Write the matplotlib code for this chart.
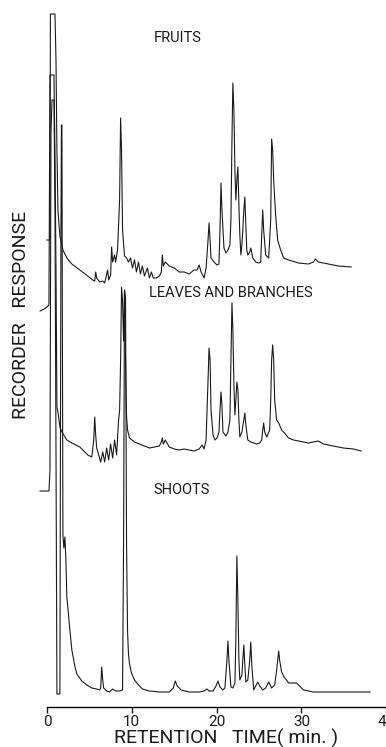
import numpy as np
import matplotlib
matplotlib.use("Agg")
import matplotlib.pyplot as plt

plt.rcParams['font.family'] = ['Roboto', 'DejaVu Sans']

# retention time (min) and recorder response (chart units above each trace's baseline)
fruits_t = [0.00, 0.35, 0.40, 0.47, 0.94, 1.06, 1.17, 1.29, 1.52, 1.88, 2.34, 2.93, 3.87, 4.81,
            5.39, 5.63, 5.74, 5.86, 6.21, 6.57, 6.80, 7.15, 7.27, 7.50, 7.62, 7.74, 7.97, 8.09,
            8.32, 8.56, 8.68, 8.79, 8.91, 9.14, 9.38, 9.61, 9.85, 10.08, 10.32, 10.55, 10.79,
            11.02, 11.25, 11.49, 11.84, 12.08, 12.31, 12.54, 12.90, 13.25, 13.48, 13.60, 13.72,
            13.95, 14.42, 15.01, 15.59, 16.18, 16.76, 17.35, 17.70, 17.94, 18.17, 18.41, 18.52,
            18.76, 18.99, 19.11, 19.23, 19.34, 19.70, 20.05, 20.28, 20.40, 20.52, 20.63, 20.87,
            21.10, 21.34, 21.57, 21.69, 21.81, 21.92, 22.04, 22.16, 22.27, 22.39, 22.51, 22.63,
            22.74, 22.86, 22.98, 23.09, 23.21, 23.33, 23.45, 23.56, 23.68, 23.91, 24.03, 24.27,
            24.62, 24.97, 25.20, 25.32, 25.44, 25.55, 25.79, 26.14, 26.38, 26.49, 26.61, 26.73,
            26.96, 27.20, 27.55, 27.90, 28.49, 29.66, 30.83, 31.42, 31.65, 32.00, 33.18, 34.35,
            35.87]
fruits_r = [27, 27, 253, 253, 253, 207, 117, 57, 31, 17, 9, 3, -3, -9,
            -13, -14, -5, -11, -15, -14, -16, -3, -13, -8, 20, 5, 12, 5,
            17, 67, 149, 117, 37, 11, 9, 5, 9, -1, 7, -5, 5,
            -7, 1, -9, -1, -11, -5, -11, -11, -9, -5, 12, 1,
            5, 1, -1, -5, -5, -7, -3, -3, 2, -5, -9, -11,
            -1, 27, 44, 27, 9, 5, 2, 3, 37, 84, 57, 19,
            14, 17, 22, 47, 127, 184, 157, 97, 67, 87, 100, 62,
            32, 12, 22, 37, 57, 70, 42, 17, 12, 15, 19, 9,
            5, 4, 5, 32, 57, 37, 12, 9, 47, 128, 117, 87,
            52, 27, 17, 9, 7, 4, 3, 5, 8, 5, 3, 1,
            0]

leaves_t = [-0.82, -0.35, 0.00, 0.23, 0.35, 0.82, 0.94, 1.06, 1.17, 1.29, 1.52, 1.76, 2.34, 2.93,
            3.87, 4.81, 5.28, 5.51, 5.63, 5.74, 5.86, 6.10, 6.33, 6.57, 6.80, 7.03, 7.27, 7.50,
            7.74, 7.97, 8.21, 8.44, 8.56, 8.68, 8.79, 8.91, 9.03, 9.14, 9.26, 9.38, 9.50, 9.73,
            10.32, 10.90, 11.49, 12.08, 12.66, 13.25, 13.48, 13.60, 13.72, 13.95, 14.42, 15.01,
            15.59, 16.18, 16.76, 17.35, 17.94, 18.29, 18.52, 18.76, 18.99, 19.11, 19.23, 19.34,
            19.58, 19.81, 20.05, 20.28, 20.40, 20.52, 20.63, 20.75, 21.10, 21.34, 21.57, 21.69,
            21.81, 21.92, 22.04, 22.16, 22.27, 22.39, 22.51, 22.63, 22.74, 22.98, 23.21, 23.33,
            23.45, 23.68, 24.03, 24.38, 24.74, 25.09, 25.32, 25.44, 25.55, 25.67, 25.91, 26.26,
            26.38, 26.49, 26.61, 26.73, 26.85, 27.08, 27.32, 27.67, 27.90, 28.49, 29.07, 29.66,
            30.83, 31.42, 32.00, 32.59, 33.76, 34.94, 36.11, 37.05]
leaves_r = [140, 142, 144, 146, 376, 376, 300, 180, 44, 39, 24, 19, 11, 8,
            4, -4, -6, 11, 34, 16, 3, -4, -11, -1, -11, 3, -9, 7,
            -7, 11, -4, 31, 40, 90, 164, 150, 110, 160, 90, 35, 21, 13,
            9, 7, 5, 3, 4, 5, 9, 13, 7, 11, 4, 2,
            1, 2, 1, 0, 2, 6, 2, 11, 71, 103, 91, 41,
            16, 11, 13, 19, 41, 59, 46, 19, 15, 19, 31, 91,
            148, 121, 66, 36, 51, 69, 61, 31, 14, 19, 31, 38,
            26, 11, 9, 8, 7, 8, 11, 21, 28, 19, 14, 21,
            51, 91, 106, 91, 51, 31, 28, 21, 19, 13, 11, 10,
            8, 9, 10, 7, 5, 3, 2, 0]

shoots_t = [-0.82, 0.23, 0.35, 0.47, 0.59, 0.82, 0.94, 1.06, 1.17, 1.52, 1.64, 1.70, 1.76, 1.82,
            1.88, 1.99, 2.11, 2.23, 2.34, 2.70, 2.93, 3.28, 3.52, 4.10, 4.69, 5.28, 5.86, 6.21,
            6.33, 6.45, 6.57, 6.68, 7.03, 7.39, 7.74, 8.09, 8.56, 8.91, 9.03, 9.14, 9.26, 9.38,
            9.50, 9.61, 9.73, 9.96, 10.32, 10.79, 11.25, 12.08, 13.25, 14.42, 14.89, 15.12, 15.36,
            15.83, 16.76, 17.94, 18.52, 18.87, 19.11, 19.58, 19.93, 20.16, 20.40, 20.75, 20.98,
            21.22, 21.34, 21.45, 21.69, 21.92, 22.16, 22.27, 22.39, 22.51, 22.63, 22.74, 22.98,
            23.09, 23.21, 23.33, 23.45, 23.68, 23.91, 24.03, 24.15, 24.38, 24.62, 24.85, 25.09,
            25.44, 25.79, 26.14, 26.38, 26.49, 26.85, 27.08, 27.32, 27.43, 27.67, 28.02, 28.25,
            28.49, 29.07, 29.43, 29.78, 30.25, 30.83, 31.42, 38.10]
shoots_r = [201, 201, 222, 560, 592, 592, 480, 242, -2, -2, 450, 567, 567, 342,
            157, 144, 155, 132, 95, 62, 42, 26, 18, 11, 7, 4, 3, 2,
            4, 25, 12, 4, 1, 0, 3, 1, 1, 2, 150, 402, 395, 150,
            60, 38, 28, 19, 12, 7, 3, 1, 0, 0, 4, 11, 6,
            2, 0, 0, 1, 3, 1, 1, 6, 11, 5, 2, 4,
            32, 51, 32, 5, 4, 9, 52, 136, 92, 32, 12, 17,
            32, 47, 27, 10, 12, 32, 50, 27, 2, 6, 10, 6,
            2, 4, 10, 6, 4, 7, 22, 41, 32, 20, 14, 12,
            9, 9, 9, 6, 2, 1, 0, 0]

# where each trace's baseline sits on the chart paper
offsets = {'fruits': 440, 'leaves': 256, 'shoots': 15}

labels = [('FRUITS', 12.6, 669), ('LEAVES AND BRANCHES', 12.0, 414), ('SHOOTS', 12.6, 217)]
xticks = [0, 10, 20, 30, 40]

W, H = 386, 747
fig = plt.figure(figsize=(W / 100, H / 100), dpi=100)
px_per_min = 8.48
x_lo, x_hi = -1.0, 40.5
left = (47 + x_lo * px_per_min) / W
ax = fig.add_axes([left, 40 / H, (x_hi - x_lo) * px_per_min / W, 707 / H])
ax.set_xlim(x_lo, x_hi)
ax.set_ylim(0, 707)

for t, r, key in [(fruits_t, fruits_r, 'fruits'), (leaves_t, leaves_r, 'leaves'),
                  (shoots_t, shoots_r, 'shoots')]:
    ax.plot(t, np.array(r) + offsets[key], color='#1a1a1a', lw=0.8, solid_joinstyle='round')

for txt, x, y in labels:
    ax.text(x, y, txt, fontsize=10.5, ha='left', va='center', color='#1a1a1a')

for s in ['top', 'right', 'left']:
    ax.spines[s].set_visible(False)
ax.spines['bottom'].set_bounds(0, 40)
ax.spines['bottom'].set_linewidth(1.0)
ax.set_yticks([])
ax.set_xticks(xticks)
ax.tick_params(axis='x', direction='out', length=4, width=1, pad=2, labelsize=11, colors='#1a1a1a')

fig.text(226 / W, 1 - 744 / H, 'RETENTION   TIME( min. )', fontsize=14,
         ha='center', va='baseline', color='#1a1a1a')
fig.text(21 / W, 1 - 315 / H, 'RECORDER   RESPONSE', fontsize=14,
         rotation=90, ha='center', va='center', color='#1a1a1a')

fig.savefig('out.png', dpi=100, facecolor='white')
